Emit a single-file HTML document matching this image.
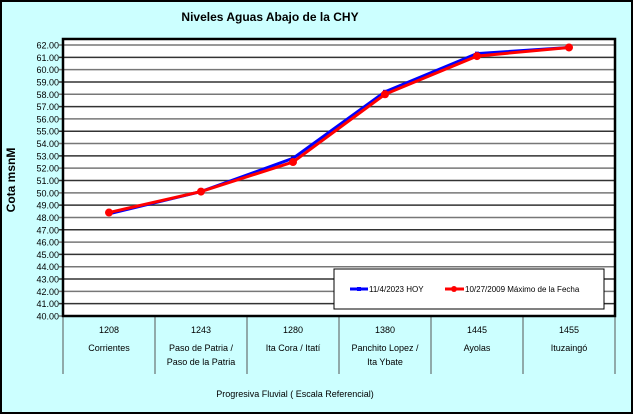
<!DOCTYPE html>
<html><head><meta charset="utf-8"><style>
body{margin:0;width:633px;height:414px;overflow:hidden;background:#fff}
svg{display:block;font-family:"Liberation Sans",sans-serif}
</style></head><body>
<svg id="c" width="633" height="414">
<rect x="1" y="1" width="631" height="412" fill="#ccffff" stroke="#000" stroke-width="2"/>
<text x="270" y="21" font-size="12" font-weight="bold" text-anchor="middle">Niveles Aguas Abajo de la CHY</text>
<rect x="63" y="39" width="552" height="277" fill="#fff"/>
<g id="grid"></g><g id="ylab"></g><g id="xlab"></g><g id="series"></g>
<rect x="63" y="39" width="552" height="277" fill="none" stroke="#000" stroke-width="2.5"/>
<text transform="translate(15,180) rotate(-90)" font-size="12" font-weight="bold" text-anchor="middle">Cota msnM</text>
<text x="295" y="397" font-size="9" text-anchor="middle">Progresiva Fluvial ( Escala Referencial)</text>
<g>
<rect x="334" y="269" width="270" height="40" fill="#fff" stroke="#000" stroke-width="1"/>
<g><line x1="350" y1="289" x2="368" y2="289" stroke="#0000ff" stroke-width="3"/><rect x="357" y="287" width="4" height="4" fill="#0000ff"/><text x="369" y="292" font-size="8">11/4/2023 HOY</text></g>
<g><line x1="445" y1="289" x2="464" y2="289" stroke="#ff0000" stroke-width="3"/><circle cx="454" cy="289" r="3" fill="#ff0000"/><text x="465" y="292" font-size="8">10/27/2009 Máximo de la Fecha</text></g>
</g>
</svg>
<script>
const codes=["1208","1243","1280","1380","1445","1455"];
const names=[["Corrientes"],["Paso de Patria /","Paso de la Patria"],["Ita Cora / Itatí"],["Panchito Lopez /","Ita Ybate"],["Ayolas"],["Ituzaingó"]];
const hoy=[48.3,50.1,52.8,58.2,61.3,61.8];
const maximo=[48.4,50.1,52.5,58.0,61.1,61.8];
const yMin=40,yMax=62;
const NS="http://www.w3.org/2000/svg";
const x0=63,cw=92,yTop=45,yBot=316;
const y=v=>yBot-(v-yMin)/(yMax-yMin)*(yBot-yTop);
const xc=i=>x0+cw*i+cw/2;
function mk(t,a,p){const e=document.createElementNS(NS,t);for(const k in a)e.setAttribute(k,a[k]);p.appendChild(e);return e;}
const grid=document.getElementById('grid'),yl=document.getElementById('ylab'),xl=document.getElementById('xlab'),ser=document.getElementById('series');
for(let v=yMin;v<=yMax;v++){
 const l=mk('line',{x1:x0-4,x2:615,y1:y(v),y2:y(v),stroke:v%2?'#333':'#777','stroke-width':1.5},grid);
 
 
 const t=mk('text',{x:59,y:y(v)+3.5,'font-size':9,'text-anchor':'end'},yl);t.textContent=v.toFixed(2);
 
 
}
for(let i=0;i<=codes.length;i++){
 const l=mk('line',{x1:x0+cw*i,x2:x0+cw*i,y1:316,y2:374,stroke:'#555','stroke-width':1},xl);
 
 
}
codes.forEach((c,i)=>{
 const t=mk('text',{x:xc(i),y:333,'font-size':9,'text-anchor':'middle'},xl);t.textContent=c;
 
 
 names[i].forEach((n,j)=>{const u=mk('text',{x:xc(i),y:351+j*14,'font-size':9,'text-anchor':'middle'},xl);u.textContent=n;
 
 });
});
function line(vals,col,name,dot){
 const p=mk('polyline',{points:vals.map((v,i)=>xc(i)+','+y(v)).join(' '),fill:'none',stroke:col,'stroke-width':3},ser);
 
 
 vals.forEach((v,i)=>{
  const m=dot?mk('circle',{cx:xc(i),cy:y(v),r:4,fill:col},ser):mk('rect',{x:xc(i)-2,y:y(v)-2,width:4,height:4,fill:col},ser);
  
  
 });
}
line(hoy,'#0000ff','hoy',false);
line(maximo,'#ff0000','maximo',true);
</script>
</body></html>
